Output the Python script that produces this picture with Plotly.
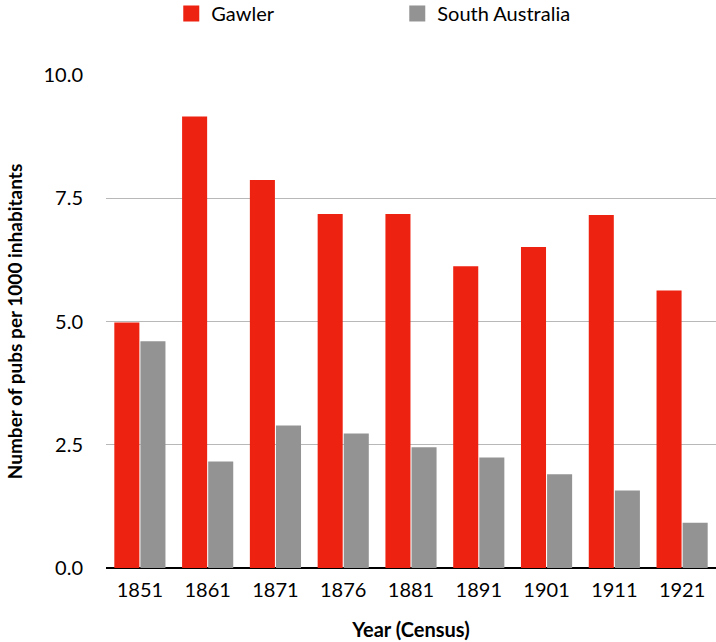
import plotly.graph_objects as go

years = ["1851", "1861", "1871", "1876", "1881", "1891", "1901", "1911", "1921"]
gawler = [4.98, 9.16, 7.87, 7.18, 7.18, 6.12, 6.51, 7.16, 5.63]
south_australia = [4.60, 2.16, 2.89, 2.73, 2.45, 2.24, 1.90, 1.57, 0.92]
y_ticks = [0, 2.5, 5.0, 7.5, 10.0]

font_name = "Lato"
red = "#ee2211"
grey = "#939393"

fig = go.Figure()
fig.add_trace(go.Bar(x=years, y=gawler, name="Gawler", marker_color=red,
                     marker_line_width=0, showlegend=False))
fig.add_trace(go.Bar(x=years, y=south_australia, name="South Australia", marker_color=grey,
                     marker_line_width=0, showlegend=False))
# legend only entries, so the legend squares can be bigger than the bar ones
for nm, col in [("Gawler", red), ("South Australia", grey)]:
    fig.add_trace(go.Scatter(x=[None], y=[None], mode="markers", name=nm,
                             marker=dict(symbol="square", size=20, color=col)))

fig.update_layout(
    width=716, height=642,
    margin=dict(l=106, r=0, t=75, b=74),
    plot_bgcolor="white", paper_bgcolor="white",
    font=dict(family=font_name, size=20, color="black"),
    barmode="group", bargap=0.23, bargroupgap=0.04,
    showlegend=True,
    legend=dict(orientation="h", x=0.107, xanchor="left",
                yref="container", y=0.979, yanchor="middle",
                entrywidth=181, entrywidthmode="pixels",
                font=dict(family=font_name, size=20, color="black")),
)
fig.update_xaxes(
    showgrid=False, showline=False, ticks="", automargin=False,
    tickfont=dict(size=20), ticklabelstandoff=8,
    title=dict(text="<b>Year (Census)</b>", font=dict(size=20), standoff=22),
)
fig.update_yaxes(
    range=[0, 10], tickvals=y_ticks, tickformat=".1f", automargin=False,
    showgrid=True, gridcolor="#b8b8b8", gridwidth=1,
    zeroline=True, zerolinecolor="black", zerolinewidth=2,
    showline=False, ticks="", ticklabelstandoff=22,
    tickfont=dict(size=20),
    title=dict(text="<b>Number of pubs per 1000 inhabitants</b>", font=dict(size=19), standoff=15),
)

# page has a default 8px body margin, drop it so the figure fills the window
fig.write_html("out.html", config={"displayModeBar": False},
               post_script="document.body.style.margin='0';")
